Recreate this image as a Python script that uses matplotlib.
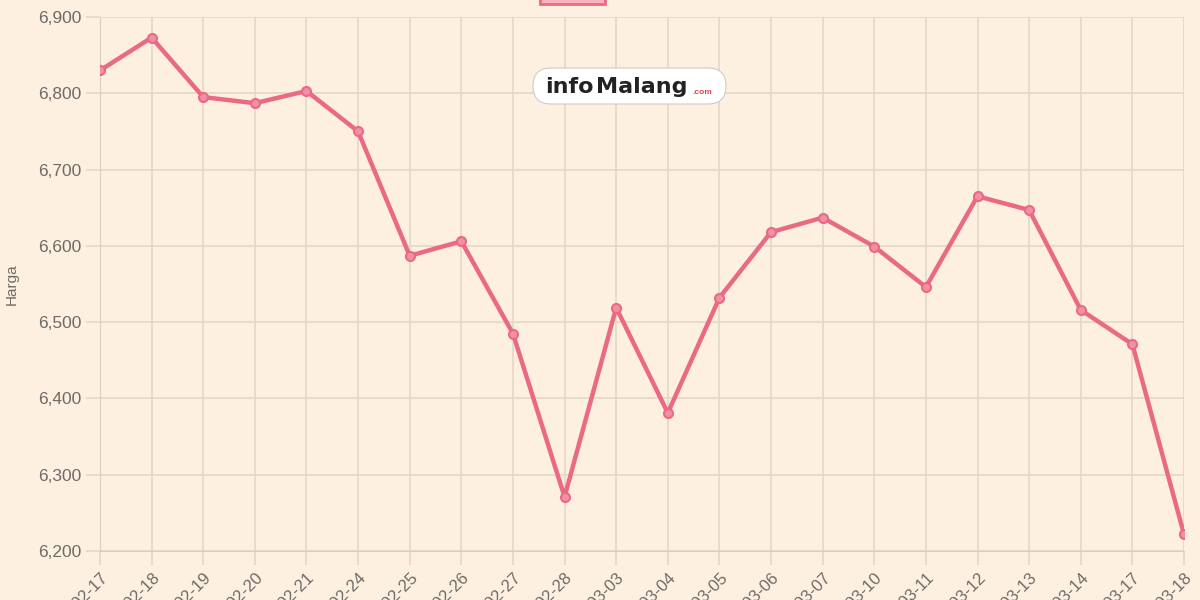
import numpy as np
import matplotlib.pyplot as plt
from matplotlib.patches import Rectangle, FancyBboxPatch
from matplotlib.transforms import IdentityTransform

# data
tanggal = ['2025-02-17', '2025-02-18', '2025-02-19', '2025-02-20', '2025-02-21',
           '2025-02-24', '2025-02-25', '2025-02-26', '2025-02-27', '2025-02-28',
           '2025-03-03', '2025-03-04', '2025-03-05', '2025-03-06', '2025-03-07',
           '2025-03-10', '2025-03-11', '2025-03-12', '2025-03-13', '2025-03-14',
           '2025-03-17', '2025-03-18']
harga = [6830, 6873, 6795, 6787, 6803, 6750, 6587, 6606, 6485, 6271,
         6519, 6381, 6532, 6618, 6637, 6599, 6546, 6665, 6647, 6516,
         6471, 6222]
yticks = [6200, 6300, 6400, 6500, 6600, 6700, 6800, 6900]

plt.rcParams['font.family'] = ['Liberation Sans', 'DejaVu Sans']

bg = '#fdf0e0'
grid = '#e3d7c6'
line = '#ea6a86'
txt = '#6e6a66'

fig = plt.figure(figsize=(12, 6), dpi=100, facecolor=bg)
ax = fig.add_axes([100/1200, 1-551/600, 1084/1200, 534/600])
ax.set_facecolor(bg)

x = np.arange(len(tanggal))
ax.plot(x, harga, color=line, lw=3.2, marker='o', ms=6.5, mfc='#f090a5',
        mec=line, mew=1.5, zorder=3)

ax.set_xlim(0, len(tanggal)-1)
ax.set_ylim(6200, 6900)
ax.set_yticks(yticks)
ax.set_yticklabels([f'{v:,}' for v in yticks])
ax.set_xticks(x)
ax.set_xticklabels(tanggal, rotation=45, ha='right', rotation_mode='anchor')

ax.grid(True, color=grid, lw=1.2)
for s in ['top', 'right']:
    ax.spines[s].set_visible(False)
for s in ['left', 'bottom']:
    ax.spines[s].set_color('#d9cdbd')
ax.tick_params(axis='both', colors=grid, labelcolor=txt, length=10, width=1.2)
ax.tick_params(axis='y', labelsize=12.5)
ax.tick_params(axis='x', labelsize=12, pad=4)
ax.set_ylabel('Harga', color=txt, fontsize=11, labelpad=14)

# legend swatch sitting above the visible area
fig.patches.append(Rectangle((540/1200, 1-4/600), 65/1200, 10/600,
                             transform=fig.transFigure, facecolor='#f7b3c0',
                             edgecolor=line, lw=2))

# watermark (pixel coordinates, origin bottom-left)
fig.patches.append(FancyBboxPatch((533, 600-104), 193, 36,
                                  boxstyle='round,pad=0,rounding_size=18',
                                  transform=IdentityTransform(), fc='white',
                                  ec='#cccccc', lw=0.8, zorder=5))
fig.text(545/1200, 1-87/600, 'info', ha='left', va='center', zorder=6,
         fontsize=16, fontweight='bold', color='#222222', family='DejaVu Sans')
fig.text(596/1200, 1-87/600, 'Malang', ha='left', va='center', zorder=6,
         fontsize=16, fontweight='bold', color='#222222', family='DejaVu Sans')
fig.text(692/1200, 1-93/600, '.com', ha='left', va='center', zorder=6,
         fontsize=6, fontweight='bold', color='#e04050')

fig.savefig('out.png', dpi=100, facecolor=bg)
